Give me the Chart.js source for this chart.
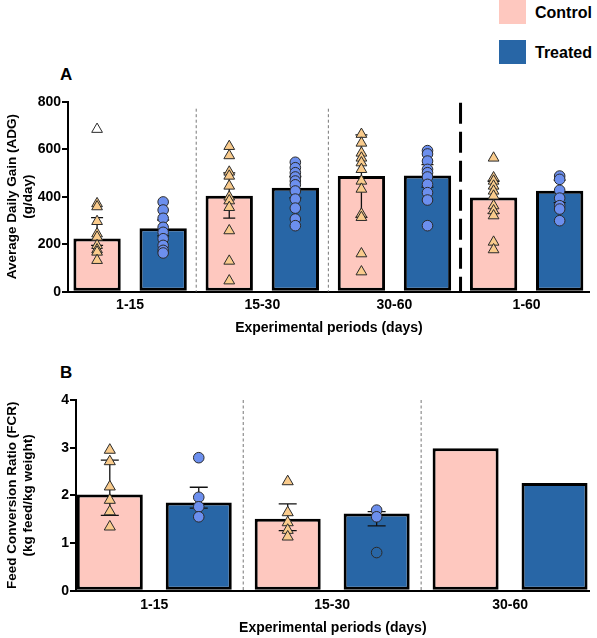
<!DOCTYPE html>
<html>
<head>
<meta charset="utf-8">
<script src="https://cdn.jsdelivr.net/npm/chart.js@4/dist/chart.umd.min.js"></script>
<style>
  html, body { margin: 0; padding: 0; background: #fff; }
  body { width: 597px; height: 638px; position: relative; overflow: hidden;
         font-family: 'Liberation Sans', Arial, sans-serif; font-weight: bold; color: #000; }
  .abs { position: absolute; }
  .panel-label { font-size: 17px; line-height: 17px; }
  .swatch { width: 27px; height: 24px; }
  .leg-text { font-size: 16px; line-height: 16px; }
</style>
</head>
<body>
<div class="abs swatch" style="left:499px; top:0px; background:#FEC8BF"></div>
<div class="abs leg-text" style="left:535px; top:5px">Control</div>
<div class="abs swatch" style="left:499px; top:40px; background:#2866A6"></div>
<div class="abs leg-text" style="left:535px; top:45px">Treated</div>
<div class="abs panel-label" style="left:60px; top:66px">A</div>
<div class="abs panel-label" style="left:60px; top:364px">B</div>
<canvas id="adgChart" class="abs" style="left:0; top:60px" width="597" height="280"></canvas>
<canvas id="fcrChart" class="abs" style="left:0; top:360px" width="597" height="278"></canvas>
<script>
// Panel A - average daily gain
const adgPeriods = ['1-15', '15-30', '30-60', '1-60'];
const adgControl = [224, 404, 487, 397];
const adgTreated = [267, 438, 489, 425];
const adgControlErr = [[195, 312], [310, 500], [313, 660], [330, 465]];
const adgTreatedErr = [[235, 302], [395, 485], [440, 535], [375, 470]];
const adgControlPts = [
    [371, 358, 296, 244, 230, 195, 177, 167, 132],
    [612, 573, 504, 487, 445, 399, 383, 355, 257, 129, 46],
    [663, 626, 584, 563, 543, 515, 466, 432, 327, 313, 160, 84],
    [563, 480, 466, 445, 424, 403, 362, 341, 320, 209, 177]
];
const adgTreatedPts = [
    [378, 344, 309, 271, 250, 223, 195, 174, 163],
    [545, 522, 501, 483, 466, 450, 424, 390, 352, 306, 278],
    [594, 580, 550, 515, 501, 483, 452, 417, 386, 278],
    [487, 473, 427, 394, 362, 348, 299]
];
const adgControlOut = [[684], [], [], []];
const adgTreatedOut = [[], [], [], []];

// Panel B - feed conversion ratio
const fcrPeriods = ['1-15', '15-30', '30-60'];
const fcrControl = [2.02, 1.51, 2.99];
const fcrTreated = [1.85, 1.62, 2.26];
const fcrControlErr = [[1.58, 2.74], [1.26, 1.82], null];
const fcrTreatedErr = [[1.73, 2.17], [1.36, 1.66], null];
const fcrControlPts = [[2.95, 2.71, 2.18, 1.90, 1.66, 1.34], [2.29, 1.64, 1.43, 1.27, 1.13], []];
const fcrTreatedPts = [[2.79, 1.96, 1.76, 1.55], [1.69, 1.55], []];
const fcrControlOut = [[], [], []];
const fcrTreatedOut = [[], [0.80], []];

const PINK = '#FEC8BF';
const BLUE = '#2866A6';
const TRI = '#F9CB8C';
const DOT = '#6C8FEE';
const FONT = "'Liberation Sans', Arial, sans-serif";

function barSet(label, values, color) {
    return {
        type: 'bar',
        label: label,
        data: values.map((v, i) => ({ x: i, y: v })),
        backgroundColor: color,
        borderColor: '#000',
        borderWidth: 3,
        borderSkipped: false,
        order: 3
    };
}

function pointSet(groups, shift, style, fill, radius) {
    const data = [];
    groups.forEach((vals, i) => {
        vals.forEach((v) => data.push({ x: i + shift, y: v }));
    });
    return {
        type: 'scatter',
        data: data,
        pointStyle: style,
        pointRadius: radius,
        pointHoverRadius: radius,
        backgroundColor: fill,
        borderColor: '#2a2a2a',
        borderWidth: 1,
        order: 1
    };
}

// dividers between periods + error bars on each bar
const decor = {
    id: 'decor',
    beforeDatasetsDraw(chart, args, opts) {
        const { ctx, chartArea, scales: { x } } = chart;
        (opts.dividers || []).forEach((d) => {
            const px = x.getPixelForValue(d.at);
            ctx.save();
            ctx.beginPath();
            ctx.setLineDash(d.thick ? [21, 8] : [3, 2.5]);
            ctx.lineWidth = d.thick ? 3 : 1;
            ctx.strokeStyle = d.thick ? '#000' : '#777';
            ctx.moveTo(px, chartArea.top + d.inset);
            ctx.lineTo(px, chartArea.bottom);
            ctx.stroke();
            ctx.restore();
        });
    },
    afterDatasetDraw(chart, args, opts) {
        const errs = opts.errors && opts.errors[args.index];
        if (!errs) return;
        const { ctx, scales: { y } } = chart;
        ctx.save();
        ctx.strokeStyle = '#111';
        ctx.lineWidth = 1.3;
        args.meta.data.forEach((bar, i) => {
            const e = errs[i];
            if (!e) return;
            const y0 = y.getPixelForValue(e[0]);
            const y1 = y.getPixelForValue(e[1]);
            ctx.beginPath();
            ctx.moveTo(bar.x, y0);
            ctx.lineTo(bar.x, y1);
            ctx.moveTo(bar.x - opts.cap, y0);
            ctx.lineTo(bar.x + opts.cap, y0);
            ctx.moveTo(bar.x - opts.cap, y1);
            ctx.lineTo(bar.x + opts.cap, y1);
            ctx.stroke();
        });
        ctx.restore();
    }
};

function makeChart(id, cfg) {
    const datasets = [
        barSet('Control', cfg.control, PINK),
        barSet('Treated', cfg.treated, BLUE),
        pointSet(cfg.controlPts, -0.25, 'triangle', TRI, cfg.triR),
        pointSet(cfg.treatedPts, 0.25, 'circle', DOT, cfg.dotR),
        pointSet(cfg.controlOut, -0.25, 'triangle', 'rgba(0,0,0,0)', cfg.triR),
        pointSet(cfg.treatedOut, 0.25, 'circle', 'rgba(0,0,0,0)', cfg.dotR)
    ];

    return new Chart(document.getElementById(id), {
        type: 'bar',
        data: { datasets: datasets },
        options: {
            responsive: false,
            animation: false,
            layout: { padding: { top: cfg.padTop, left: 0, right: 0, bottom: 0 } },
            datasets: {
                bar: { categoryPercentage: 1, barPercentage: cfg.barPct }
            },
            plugins: {
                legend: { display: false },
                tooltip: { enabled: false },
                decor: { dividers: cfg.dividers, errors: [cfg.controlErr, cfg.treatedErr], cap: cfg.cap }
            },
            scales: {
                x: {
                    type: 'linear',
                    offset: false,
                    min: cfg.xMin,
                    max: cfg.xMax,
                    afterBuildTicks: (s) => { s.ticks = cfg.labels.map((_, i) => ({ value: i })); },
                    afterFit: (s) => { s.height = cfg.xHeight; },
                    grid: { display: false, drawTicks: false },
                    border: { display: true, color: '#000', width: 2 },
                    ticks: {
                        callback: (v) => cfg.labels[v],
                        color: '#000',
                        font: { family: FONT, size: 14, weight: 'bold' },
                        padding: cfg.tickPad,
                        maxRotation: 0,
                        autoSkip: false
                    },
                    title: {
                        display: true,
                        text: 'Experimental periods (days)',
                        color: '#000',
                        font: { family: FONT, size: 14, weight: 'bold' },
                        padding: { top: 0, bottom: cfg.titlePad }
                    }
                },
                y: {
                    min: 0,
                    max: cfg.yMax,
                    afterFit: (s) => { s.width = cfg.axisLeft; },
                    ticks: {
                        stepSize: cfg.yStep,
                        color: '#000',
                        font: { family: FONT, size: 14, weight: 'bold' },
                        padding: 1
                    },
                    grid: {
                        display: true,
                        drawOnChartArea: false,
                        drawTicks: true,
                        tickLength: 6,
                        color: '#000',
                        lineWidth: 2
                    },
                    border: { display: true, color: '#000', width: 2 },
                    title: {
                        display: true,
                        text: cfg.yTitle,
                        color: '#000',
                        font: { family: FONT, size: 13.5, weight: 'bold', lineHeight: 1.2 },
                        padding: { top: 4, bottom: 0 }
                    }
                }
            }
        },
        plugins: [decor]
    });
}

makeChart('adgChart', {
    labels: adgPeriods,
    control: adgControl,
    treated: adgTreated,
    controlErr: adgControlErr,
    treatedErr: adgTreatedErr,
    controlPts: adgControlPts,
    treatedPts: adgTreatedPts,
    controlOut: adgControlOut,
    treatedOut: adgTreatedOut,
    yMax: 800,
    yStep: 200,
    yTitle: ['Average Daily Gain (ADG)', '(g/day)'],
    xMin: -0.47,
    xMax: 3.478,
    axisLeft: 68,
    padTop: 41.7,
    xHeight: 48.3,
    tickPad: 5,
    titlePad: 3.6,
    barPct: 0.716,
    triR: 6.2,
    dotR: 5.3,
    cap: 6,
    dividers: [
        { at: 0.5, thick: false, inset: 7 },
        { at: 1.5, thick: false, inset: 7 },
        { at: 2.5, thick: true, inset: 1 }
    ]
});

makeChart('fcrChart', {
    labels: fcrPeriods,
    control: fcrControl,
    treated: fcrTreated,
    controlErr: fcrControlErr,
    treatedErr: fcrTreatedErr,
    controlPts: fcrControlPts,
    treatedPts: fcrTreatedPts,
    controlOut: fcrControlOut,
    treatedOut: fcrTreatedOut,
    yMax: 4,
    yStep: 1,
    yTitle: ['Feed Conversion Ratio (FCR)', '(kg feed/kg weight)'],
    xMin: -0.44,
    xMax: 2.447,
    axisLeft: 76,
    padTop: 40,
    xHeight: 47.3,
    tickPad: 6,
    titlePad: 1.6,
    barPct: 0.742,
    triR: 6.4,
    dotR: 5.3,
    cap: 9,
    dividers: [
        { at: 0.5, thick: false, inset: 0 },
        { at: 1.5, thick: false, inset: 0 }
    ]
});
</script>
</body>
</html>
